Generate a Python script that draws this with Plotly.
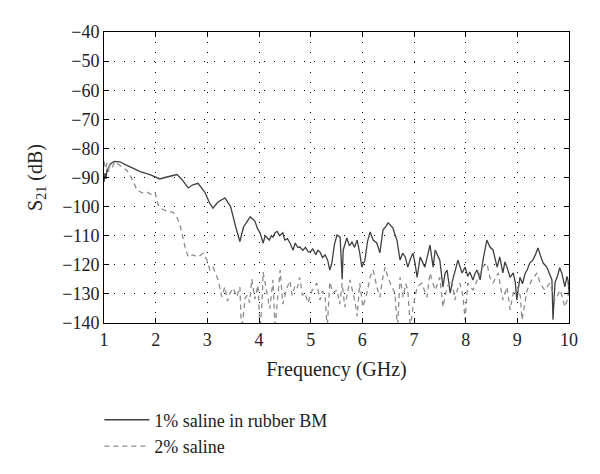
import plotly.graph_objects as go

# 1% saline in rubber BM (solid)
freq_bm = [1.00, 1.02, 1.04, 1.06, 1.08, 1.10, 1.15, 1.20, 1.31, 1.40, 1.56, 1.70, 1.89, 2.00, 2.08,
           2.18, 2.28, 2.41, 2.50, 2.63, 2.72, 2.82, 2.95, 3.05, 3.11, 3.20, 3.34, 3.45, 3.55, 3.63,
           3.70, 3.83, 3.92, 3.97, 4.02, 4.05, 4.08, 4.12, 4.15, 4.20, 4.24, 4.27, 4.31, 4.35, 4.40,
           4.46, 4.50, 4.55, 4.60, 4.66, 4.70, 4.75, 4.79, 4.85, 4.90, 4.95, 4.99, 5.04, 5.10, 5.14,
           5.18, 5.23, 5.28, 5.33, 5.37, 5.41, 5.46, 5.51, 5.57, 5.61, 5.63, 5.70, 5.75, 5.80, 5.85,
           5.90, 5.95, 5.99, 6.05, 6.10, 6.15, 6.21, 6.28, 6.34, 6.40, 6.45, 6.50, 6.55, 6.59, 6.63,
           6.67, 6.73, 6.78, 6.83, 6.88, 6.93, 6.98, 7.02, 7.06, 7.12, 7.16, 7.21, 7.26, 7.31, 7.37,
           7.41, 7.45, 7.50, 7.56, 7.60, 7.64, 7.70, 7.75, 7.80, 7.85, 7.93, 7.99, 8.04, 8.08, 8.14,
           8.18, 8.22, 8.28, 8.34, 8.41, 8.47, 8.53, 8.57, 8.61, 8.66, 8.72, 8.76, 8.80, 8.86, 8.92,
           8.96, 8.99, 9.05, 9.10, 9.15, 9.19, 9.24, 9.30, 9.35, 9.40, 9.45, 9.50, 9.57, 9.62, 9.67,
           9.69, 9.73, 9.77, 9.82, 9.86, 9.92, 9.96, 9.98, 10.00]
s21_bm = [-91.5, -88.5, -90.5, -87.0, -88.0, -86.0, -85.0, -84.5, -84.6, -85.5, -86.8, -88.0, -89.0, -90.0, -90.5,
          -90.0, -89.5, -89.0, -90.5, -93.6, -92.5, -92.0, -95.0, -99.0, -100.5, -98.5, -97.0, -100.0, -107.0, -112.0,
          -107.0, -103.5, -105.0, -107.5, -109.0, -111.0, -112.5, -110.0, -110.5, -111.5, -110.0, -110.5, -109.0, -108.5, -110.0,
          -109.0, -111.5, -111.0, -112.5, -115.0, -112.5, -114.0, -113.9, -115.0, -114.0, -115.5, -115.6, -114.5, -116.5, -115.0,
          -115.6, -117.5, -116.6, -118.5, -121.8, -119.4, -113.0, -109.8, -110.5, -125.0, -114.9, -110.8, -113.5, -112.2, -114.0,
          -111.5, -116.0, -120.8, -118.4, -112.0, -108.7, -111.5, -112.5, -115.9, -108.0, -107.0, -105.6, -106.5, -107.3, -109.5,
          -111.5, -118.4, -116.0, -117.3, -120.8, -118.0, -116.0, -119.5, -124.3, -117.3, -119.0, -120.8, -117.0, -113.2, -120.8,
          -114.9, -116.5, -118.4, -127.6, -123.0, -121.8, -129.7, -125.2, -122.0, -118.4, -122.8, -120.8, -124.0, -122.5, -125.2,
          -123.0, -121.8, -125.2, -118.0, -111.5, -113.9, -114.9, -118.0, -120.8, -117.3, -122.8, -119.0, -120.8, -124.3, -122.8,
          -126.0, -132.1, -124.3, -126.5, -123.0, -121.8, -119.4, -118.4, -116.5, -114.2, -117.0, -119.4, -120.8, -123.0, -125.2,
          -138.9, -126.0, -124.3, -121.0, -122.8, -127.6, -124.0, -125.2, -129.0]

# 2% saline (dashed)
freq_sal = [1.00, 1.03, 1.06, 1.09, 1.12, 1.16, 1.21, 1.28, 1.37, 1.44, 1.50, 1.56, 1.64, 1.74, 1.83,
            1.93, 1.99, 2.05, 2.14, 2.24, 2.34, 2.41, 2.47, 2.53, 2.57, 2.63, 2.72, 2.82, 2.92, 2.99,
            3.05, 3.11, 3.15, 3.21, 3.25, 3.28, 3.34, 3.39, 3.44, 3.50, 3.57, 3.63, 3.66, 3.69, 3.73,
            3.77, 3.82, 3.86, 3.92, 3.98, 4.02, 4.06, 4.08, 4.15, 4.21, 4.27, 4.31, 4.35, 4.41, 4.46,
            4.54, 4.60, 4.64, 4.70, 4.74, 4.79, 4.84, 4.89, 4.95, 5.03, 5.12, 5.18, 5.23, 5.28, 5.32,
            5.37, 5.43, 5.51, 5.56, 5.61, 5.66, 5.71, 5.76, 5.82, 5.86, 5.90, 5.95, 6.01, 6.09, 6.15,
            6.21, 6.28, 6.34, 6.39, 6.44, 6.49, 6.54, 6.63, 6.68, 6.73, 6.79, 6.84, 6.88, 6.93, 6.98,
            7.06, 7.15, 7.25, 7.31, 7.36, 7.41, 7.50, 7.56, 7.64, 7.73, 7.79, 7.84, 7.89, 7.95, 7.99,
            8.04, 8.14, 8.24, 8.33, 8.41, 8.47, 8.53, 8.63, 8.72, 8.80, 8.86, 8.92, 9.01, 9.06, 9.09,
            9.19, 9.28, 9.38, 9.44, 9.53, 9.63, 9.73, 9.83, 9.92, 9.98, 10.00]
s21_sal = [-84.5, -87.0, -85.0, -88.0, -85.0, -86.5, -84.6, -85.5, -86.8, -87.5, -89.0, -91.5, -94.3, -95.3, -95.0,
           -96.0, -95.3, -99.5, -101.0, -101.7, -102.0, -103.5, -106.3, -110.8, -114.0, -117.3, -116.6, -117.3, -116.0, -118.3,
           -121.8, -120.8, -122.5, -125.2, -128.6, -131.0, -127.6, -132.5, -129.7, -128.0, -131.0, -127.6, -142.0, -139.0, -131.5,
           -130.5, -133.0, -124.9, -131.8, -127.0, -142.0, -132.8, -122.5, -129.4, -135.1, -125.2, -142.0, -133.5, -121.8, -133.5,
           -128.0, -125.5, -130.5, -127.0, -128.0, -124.3, -130.5, -129.7, -133.1, -128.7, -126.3, -132.1, -129.0, -131.1, -142.0,
           -125.9, -129.7, -128.7, -133.5, -126.3, -134.5, -130.0, -125.2, -129.7, -133.0, -137.7, -126.3, -134.5, -129.7, -124.3,
           -121.8, -127.6, -131.1, -125.0, -120.8, -124.0, -126.3, -129.7, -142.0, -124.3, -131.1, -126.5, -128.7, -142.0, -134.5,
           -127.6, -126.3, -131.1, -122.8, -126.0, -128.7, -124.3, -134.5, -127.6, -125.2, -132.1, -128.5, -126.3, -131.0, -138.9,
           -126.3, -128.7, -124.3, -120.8, -119.4, -124.3, -126.3, -122.8, -132.1, -127.6, -135.5, -129.7, -127.6, -131.0, -138.9,
           -128.7, -125.2, -122.8, -126.3, -128.7, -126.3, -132.1, -128.7, -134.5, -131.1, -127.0]

x_ticks = [1, 2, 3, 4, 5, 6, 7, 8, 9, 10]
y_ticks = [-140, -130, -120, -110, -100, -90, -80, -70, -60, -50, -40]

font_family = "Liberation Serif"
text_color = "#222222"

fig = go.Figure()
fig.add_trace(go.Scatter(x=freq_bm, y=s21_bm, mode="lines", name="1% saline in rubber BM",
                         line=dict(color="#404040", width=1.3)))
fig.add_trace(go.Scatter(x=freq_sal, y=s21_sal, mode="lines", name="2% saline",
                         line=dict(color="#8c8c8c", width=1.3, dash="5px,4px")))

axis_common = dict(
    showline=True, linecolor="black", linewidth=1, mirror="allticks",
    ticks="inside", ticklen=5, tickcolor="black",
    showgrid=True, gridcolor="black", gridwidth=1, griddash="1px,9px",
    zeroline=False,
    tickfont=dict(family=font_family, size=18, color=text_color),
)

fig.update_xaxes(range=[1, 10], tickvals=x_ticks, ticktext=[str(v) for v in x_ticks],
                 title=dict(text="Frequency (GHz)", font=dict(family=font_family, size=20, color=text_color), standoff=13),
                 **axis_common)
fig.update_yaxes(range=[-140, -40], tickvals=y_ticks,
                 title=dict(text="S<sub>21</sub> (dB)", font=dict(family=font_family, size=20, color=text_color), standoff=14),
                 **axis_common)

# the page body adds an 8px offset, so margins are reduced by 8 on left/top
fig.update_layout(
    width=600, height=474,
    margin=dict(l=96, r=39, t=24, b=159),
    paper_bgcolor="white", plot_bgcolor="white",
    font=dict(family=font_family, size=18, color=text_color),
    legend=dict(orientation="v", x=-0.01, xanchor="left", y=-0.27, yanchor="top",
                font=dict(family=font_family, size=18, color=text_color),
                itemwidth=45,
                bgcolor="rgba(0,0,0,0)", tracegroupgap=0),
    showlegend=True,
)

fig.write_html("out.html")
